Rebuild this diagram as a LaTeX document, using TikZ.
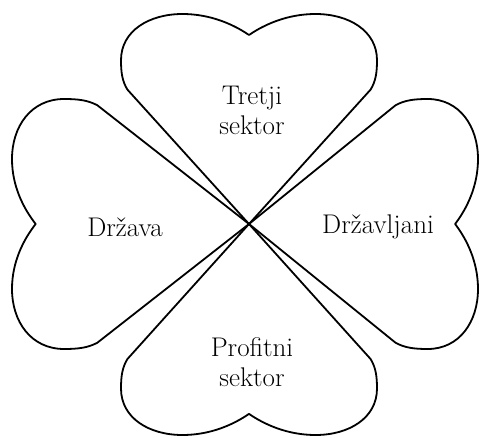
\documentclass[tikz,border=0pt]{standalone}

\tikzset{
  leaf/.pic={
    \draw[line width=1.8pt, line join=round] (0,0) -- (-0.95,0.64)
      .. controls (-0.99,0.68) and (-1,0.72) .. (-1,0.78)
      .. controls (-1,0.92) and (-0.78,1) .. (-0.52,1)
      .. controls (-0.3,1) and (-0.12,0.95) .. (0,0.9)
      .. controls (0.12,0.95) and (0.3,1) .. (0.52,1)
      .. controls (0.78,1) and (1,0.92) .. (1,0.78)
      .. controls (1,0.72) and (0.99,0.68) .. (0.95,0.64) -- cycle;
  },
  leaftext/.style={align=center, font=\fontsize{27}{30}\selectfont}
}

\begin{document}
\begin{tikzpicture}[x=1pt, y=1pt]
  \useasboundingbox (0,0) rectangle (479,437);
  \coordinate (tip) at (249,213);
  \pic[xscale=128, yscale=210] at (tip) {leaf};
  \pic[rotate=180, xscale=128, yscale=211] at (tip) {leaf};
  \pic[rotate=90, xscale=125, yscale=237] at (tip) {leaf};
  \pic[rotate=-90, xscale=125, yscale=229] at (tip) {leaf};
  \node[leaftext] (tretji) at (252,327) {Tretji\\sektor};
  \node[leaftext] (drzava) at (125,210) {Država};
  \node[leaftext] (drzavljani) at (378,210) {Državljani};
  \node[leaftext] (profitni) at (252,75) {Profitni\\sektor};
\end{tikzpicture}
\end{document}
